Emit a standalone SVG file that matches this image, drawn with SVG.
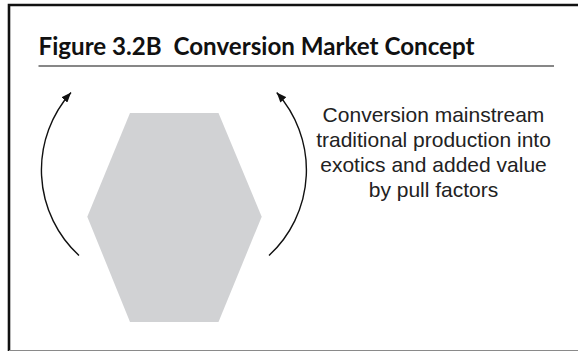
<svg xmlns="http://www.w3.org/2000/svg" width="578" height="351" viewBox="0 0 578 351">
  <style>
    .frame { fill: none; stroke: #111; stroke-width: 2.6; }
    .rule { stroke: #111; stroke-width: 1.2; }
    .title { font-family: Lato, "Open Sans", "Liberation Sans", sans-serif; font-weight: 700; font-size: 25px; fill: #111; white-space: pre; }
    .label { font-family: "Liberation Sans", Arial, sans-serif; font-size: 21px; fill: #222; text-anchor: middle; }
    .hex { fill: #d1d2d4; }
    .arc { fill: none; stroke: #111; stroke-width: 1.4; }
  </style>
  <defs>
    <marker id="head" viewBox="0 0 10 8" refX="10" refY="4" markerWidth="10" markerHeight="8" markerUnits="userSpaceOnUse" orient="auto">
      <path d="M0 0 L10 4 L0 8 Z" fill="#111"/>
    </marker>
  </defs>

  <rect width="578" height="351" fill="#fff"/>

  <!-- panel border -->
  <path class="frame" d="M9 352 V5 H580"/>
  <line x1="9" y1="350.5" x2="578" y2="350.5" stroke="#8a8a8a" stroke-width="1"/>

  <!-- heading -->
  <text class="title" x="38.5" y="55" textLength="436" lengthAdjust="spacingAndGlyphs">Figure 3.2B  Conversion Market Concept</text>
  <line class="rule" x1="38.5" y1="66" x2="554" y2="66"/>

  <!-- market block -->
  <g id="market">
    <polygon class="hex" points="130,113 218.5,113 261.7,216.7 218.5,322 130,322 87.3,216.7"/>
  </g>

  <!-- caption -->
  <g id="caption">
    <text class="label" x="433.5" y="121.5">Conversion mainstream</text>
    <text class="label" x="433.5" y="146.7">traditional production into</text>
    <text class="label" x="433.5" y="171.9">exotics and added value</text>
    <text class="label" x="433.5" y="197.1">by pull factors</text>
  </g>

  <!-- curved arrows -->
  <g id="connectors">
    <path class="arc" d="M79 255.5 A116.2 116.2 0 0 1 71 92.5" marker-end="url(#head)"/>
    <path class="arc" d="M269 255.5 A116.2 116.2 0 0 0 276.7 92.5" marker-end="url(#head)"/>
  </g>
</svg>
